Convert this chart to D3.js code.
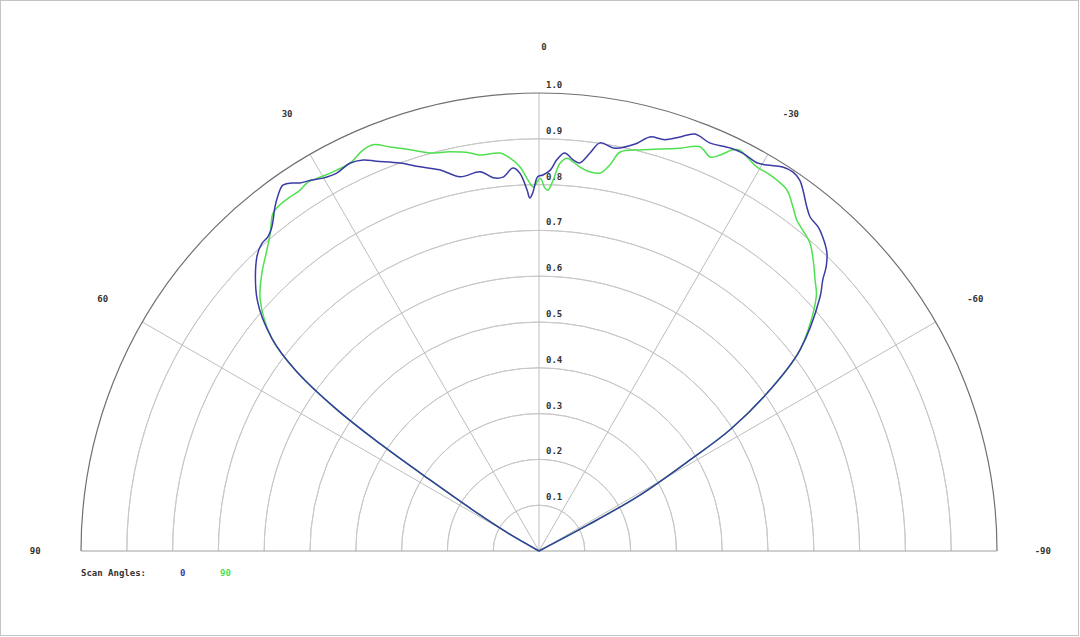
<!DOCTYPE html>
<html><head><meta charset="utf-8">
<script src="https://cdn.jsdelivr.net/npm/d3@7"></script>
<style>body{margin:0;background:#fff}svg{display:block}</style>
</head><body>
<svg id="c" width="1080" height="637"></svg>
<script>
// ---- data ----
const radialTicks = [0.1,0.2,0.3,0.4,0.5,0.6,0.7,0.8,0.9,1.0];
const angleTicks = [90,60,30,0,-30,-60,-90];
const spokeAngles = [60,30,0,-30,-60];
const seriesNames = ["0","90"];
const seriesColors = ["#3b3ba6","#4fe04f"];

const blueAngles = [90,62,60,58.6,56.9,56.0,55.0,53.4,51.5,48.3,43.8,42.0,40.8,39.5,37.5,36.2,35.0,33.9,33.0,31.5,30.1,28.1,26.0,24.2,22.6,19.7,17.2,14.6,11.9,8.8,7.0,5.5,3.9,2.9,1.9,1.5,1.0,0.2,-0.6,-1.7,-2.6,-3.7,-5.0,-6.0,-7.3,-8.5,-10.7,-13.3,-15.0,-17.0,-18.8,-20.5,-22.7,-25.4,-27.1,-29.3,-30.6,-32.4,-33.8,-35.1,-36.2,-37.9,-39.1,-40.7,-42.1,-44.0,-45.3,-46.3,-47.9,-52.4,-55.1,-57.6,-58.9,-61.0,-62.0,-63.0,-90];
const blueValues = [0,0,0.08,0.151,0.284,0.417,0.541,0.663,0.745,0.824,0.890,0.904,0.906,0.917,0.947,0.964,0.975,0.968,0.958,0.950,0.941,0.936,0.942,0.936,0.922,0.900,0.878,0.860,0.835,0.838,0.821,0.820,0.838,0.826,0.789,0.771,0.782,0.817,0.821,0.832,0.855,0.871,0.857,0.852,0.876,0.901,0.895,0.913,0.936,0.939,0.955,0.972,0.966,0.974,0.976,0.972,0.979,0.993,0.996,0.990,0.976,0.952,0.939,0.934,0.924,0.905,0.882,0.857,0.827,0.719,0.615,0.494,0.385,0.252,0.12,0,0];

const greenAngles = [90,62,60,58.6,56.9,56.0,55.0,53.4,51.5,48.0,44.9,42.1,40.2,38.2,36.8,35.1,33.5,32.2,30.4,28.5,26.0,23.7,22.2,20.2,17.8,15.3,12.6,9.8,8.5,5.6,4.2,2.8,1.7,0.9,-0.2,-0.9,-1.4,-2.2,-3.1,-4.1,-5.0,-6.1,-7.7,-9.2,-10.4,-11.5,-14.1,-16.8,-19.3,-21.7,-23.5,-24.6,-25.8,-26.6,-27.8,-29.6,-31.1,-32.7,-34.5,-36.4,-37.9,-39.4,-41.3,-43.3,-45.5,-47.5,-52.4,-55.1,-57.6,-58.9,-61.0,-62.0,-63.0,-90];
const greenValues = [0,0,0.08,0.151,0.284,0.417,0.541,0.663,0.745,0.819,0.857,0.886,0.909,0.939,0.944,0.945,0.945,0.950,0.946,0.942,0.942,0.956,0.958,0.940,0.920,0.901,0.893,0.882,0.874,0.873,0.860,0.839,0.810,0.795,0.814,0.793,0.788,0.811,0.848,0.860,0.853,0.843,0.835,0.836,0.857,0.889,0.903,0.917,0.932,0.950,0.938,0.951,0.973,0.979,0.973,0.964,0.964,0.962,0.956,0.934,0.916,0.907,0.896,0.873,0.845,0.821,0.719,0.615,0.494,0.385,0.252,0.12,0,0];

// ---- chart ----
const svg = d3.select("#c");
const cx = 539, cy = 551, R = 458;
const rScale = d3.scaleLinear().domain([0,1]).range([0,R]);
const aScale = d3.scaleLinear().domain([-90,90]).range([Math.PI/2, -Math.PI/2]);
const font = "'DejaVu Sans Mono', monospace";

svg.append("rect").attr("x",0.5).attr("y",0.5).attr("width",1078).attr("height",635)
  .attr("fill","#fff").attr("stroke","#c4c4c4");

const g = svg.append("g").attr("transform",`translate(${cx},${cy})`);

const arcGen = d3.arc().startAngle(-Math.PI/2).endAngle(Math.PI/2);
// inner circles
g.selectAll("path.grid").data(radialTicks.filter(d=>d<1)).join("path")
  .attr("class","grid")
  .attr("d", d => arcGen({innerRadius:rScale(d), outerRadius:rScale(d)}))
  .attr("fill","none").attr("stroke","#c8c8c8").attr("stroke-width",1);
// spokes
g.selectAll("line.spoke").data(spokeAngles).join("line")
  .attr("class","spoke")
  .attr("x1",0).attr("y1",0)
  .attr("x2", d => rScale(1)*Math.sin(aScale(d)))
  .attr("y2", d => -rScale(1)*Math.cos(aScale(d)))
  .attr("stroke","#bdbdbd").attr("stroke-width",1);
// outer circle + baseline
g.append("path").attr("d", arcGen({innerRadius:rScale(1), outerRadius:rScale(1)}))
  .attr("fill","none").attr("stroke","#707070").attr("stroke-width",1.2);
g.append("line").attr("x1",-rScale(1)).attr("x2",rScale(1)).attr("y1",0).attr("y2",0)
  .attr("stroke","#a0a0a0").attr("stroke-width",1);

// radial labels
g.selectAll("text.rl").data(radialTicks).join("text")
  .attr("class","rl")
  .attr("x",7).attr("y", d => -rScale(d) - 5)
  .attr("font-family",font).attr("font-size",9).attr("font-weight","bold").attr("fill","#333")
  .text(d => d.toFixed(1));
// angle labels
g.selectAll("text.al").data(angleTicks).join("text")
  .attr("class","al")
  .attr("x", d => rScale(1.1)*Math.sin(aScale(d)) + (d===0?5:0))
  .attr("y", d => -rScale(1.1)*Math.cos(aScale(d)))
  .attr("text-anchor","middle").attr("dominant-baseline","middle")
  .attr("font-family",font).attr("font-size",9).attr("font-weight","bold").attr("fill","#333")
  .text(d => String(d));

// series
const line = d3.lineRadial().angle(d => aScale(d[0])).radius(d => rScale(d[1])).curve(d3.curveCatmullRom.alpha(0.5));
const series = [d3.zip(blueAngles, blueValues), d3.zip(greenAngles, greenValues)];
[1,0].forEach(i => {
  g.append("path").datum(series[i]).attr("d", line)
    .attr("fill","none").attr("stroke",seriesColors[i]).attr("stroke-width",1.5);
});

// legend
const lg = svg.append("g").attr("font-family",font).attr("font-size",9).attr("font-weight","bold");
lg.append("text").attr("x",81).attr("y",576).attr("fill","#333").text("Scan Angles:");
lg.append("text").attr("x",180).attr("y",576).attr("fill",seriesColors[0]).text(seriesNames[0]);
lg.append("text").attr("x",220).attr("y",576).attr("fill",seriesColors[1]).text(seriesNames[1]);
</script>
</body></html>
